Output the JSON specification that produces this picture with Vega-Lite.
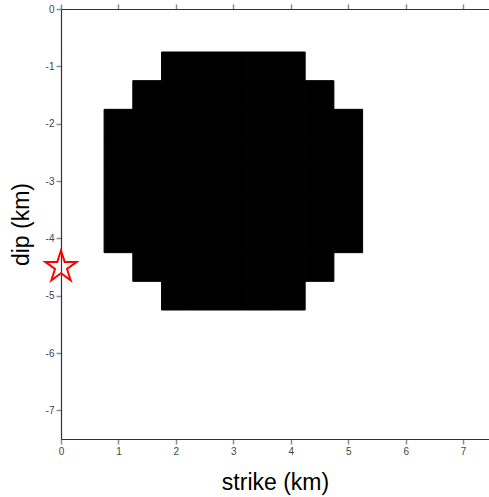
{
  "$schema": "https://vega.github.io/schema/vega-lite/v6.json",
  "width": 428,
  "height": 430,
  "autosize": "none",
  "padding": {"left": 61, "top": 9, "right": 0, "bottom": 58},
  "background": "white",
  "config": {
    "view": {"stroke": null},
    "font": "Liberation Sans",
    "axis": {
      "grid": false,
      "domainColor": "#333333",
      "domainWidth": 1.2,
      "tickColor": "#8c8c8c",
      "tickWidth": 1.5,
      "tickSize": 5,
      "labelFont": "Liberation Sans",
      "labelFontSize": 10,
      "labelColor": "#444444",
      "labelPadding": 2,
      "titleFont": "Liberation Sans",
      "titleFontSize": 23,
      "titleFontWeight": "normal",
      "titleColor": "black"
    }
  },
  "datasets": {
    "cells": [
      {"x0": 1.75, "x1": 2.25, "y0": -0.75, "y1": -1.25},
      {"x0": 2.25, "x1": 2.75, "y0": -0.75, "y1": -1.25},
      {"x0": 2.75, "x1": 3.25, "y0": -0.75, "y1": -1.25},
      {"x0": 3.25, "x1": 3.75, "y0": -0.75, "y1": -1.25},
      {"x0": 3.75, "x1": 4.25, "y0": -0.75, "y1": -1.25},
      {"x0": 1.25, "x1": 1.75, "y0": -1.25, "y1": -1.75},
      {"x0": 1.75, "x1": 2.25, "y0": -1.25, "y1": -1.75},
      {"x0": 2.25, "x1": 2.75, "y0": -1.25, "y1": -1.75},
      {"x0": 2.75, "x1": 3.25, "y0": -1.25, "y1": -1.75},
      {"x0": 3.25, "x1": 3.75, "y0": -1.25, "y1": -1.75},
      {"x0": 3.75, "x1": 4.25, "y0": -1.25, "y1": -1.75},
      {"x0": 4.25, "x1": 4.75, "y0": -1.25, "y1": -1.75},
      {"x0": 0.75, "x1": 1.25, "y0": -1.75, "y1": -2.25},
      {"x0": 1.25, "x1": 1.75, "y0": -1.75, "y1": -2.25},
      {"x0": 1.75, "x1": 2.25, "y0": -1.75, "y1": -2.25},
      {"x0": 2.25, "x1": 2.75, "y0": -1.75, "y1": -2.25},
      {"x0": 2.75, "x1": 3.25, "y0": -1.75, "y1": -2.25},
      {"x0": 3.25, "x1": 3.75, "y0": -1.75, "y1": -2.25},
      {"x0": 3.75, "x1": 4.25, "y0": -1.75, "y1": -2.25},
      {"x0": 4.25, "x1": 4.75, "y0": -1.75, "y1": -2.25},
      {"x0": 4.75, "x1": 5.25, "y0": -1.75, "y1": -2.25},
      {"x0": 0.75, "x1": 1.25, "y0": -2.25, "y1": -2.75},
      {"x0": 1.25, "x1": 1.75, "y0": -2.25, "y1": -2.75},
      {"x0": 1.75, "x1": 2.25, "y0": -2.25, "y1": -2.75},
      {"x0": 2.25, "x1": 2.75, "y0": -2.25, "y1": -2.75},
      {"x0": 2.75, "x1": 3.25, "y0": -2.25, "y1": -2.75},
      {"x0": 3.25, "x1": 3.75, "y0": -2.25, "y1": -2.75},
      {"x0": 3.75, "x1": 4.25, "y0": -2.25, "y1": -2.75},
      {"x0": 4.25, "x1": 4.75, "y0": -2.25, "y1": -2.75},
      {"x0": 4.75, "x1": 5.25, "y0": -2.25, "y1": -2.75},
      {"x0": 0.75, "x1": 1.25, "y0": -2.75, "y1": -3.25},
      {"x0": 1.25, "x1": 1.75, "y0": -2.75, "y1": -3.25},
      {"x0": 1.75, "x1": 2.25, "y0": -2.75, "y1": -3.25},
      {"x0": 2.25, "x1": 2.75, "y0": -2.75, "y1": -3.25},
      {"x0": 2.75, "x1": 3.25, "y0": -2.75, "y1": -3.25},
      {"x0": 3.25, "x1": 3.75, "y0": -2.75, "y1": -3.25},
      {"x0": 3.75, "x1": 4.25, "y0": -2.75, "y1": -3.25},
      {"x0": 4.25, "x1": 4.75, "y0": -2.75, "y1": -3.25},
      {"x0": 4.75, "x1": 5.25, "y0": -2.75, "y1": -3.25},
      {"x0": 0.75, "x1": 1.25, "y0": -3.25, "y1": -3.75},
      {"x0": 1.25, "x1": 1.75, "y0": -3.25, "y1": -3.75},
      {"x0": 1.75, "x1": 2.25, "y0": -3.25, "y1": -3.75},
      {"x0": 2.25, "x1": 2.75, "y0": -3.25, "y1": -3.75},
      {"x0": 2.75, "x1": 3.25, "y0": -3.25, "y1": -3.75},
      {"x0": 3.25, "x1": 3.75, "y0": -3.25, "y1": -3.75},
      {"x0": 3.75, "x1": 4.25, "y0": -3.25, "y1": -3.75},
      {"x0": 4.25, "x1": 4.75, "y0": -3.25, "y1": -3.75},
      {"x0": 4.75, "x1": 5.25, "y0": -3.25, "y1": -3.75},
      {"x0": 0.75, "x1": 1.25, "y0": -3.75, "y1": -4.25},
      {"x0": 1.25, "x1": 1.75, "y0": -3.75, "y1": -4.25},
      {"x0": 1.75, "x1": 2.25, "y0": -3.75, "y1": -4.25},
      {"x0": 2.25, "x1": 2.75, "y0": -3.75, "y1": -4.25},
      {"x0": 2.75, "x1": 3.25, "y0": -3.75, "y1": -4.25},
      {"x0": 3.25, "x1": 3.75, "y0": -3.75, "y1": -4.25},
      {"x0": 3.75, "x1": 4.25, "y0": -3.75, "y1": -4.25},
      {"x0": 4.25, "x1": 4.75, "y0": -3.75, "y1": -4.25},
      {"x0": 4.75, "x1": 5.25, "y0": -3.75, "y1": -4.25},
      {"x0": 1.25, "x1": 1.75, "y0": -4.25, "y1": -4.75},
      {"x0": 1.75, "x1": 2.25, "y0": -4.25, "y1": -4.75},
      {"x0": 2.25, "x1": 2.75, "y0": -4.25, "y1": -4.75},
      {"x0": 2.75, "x1": 3.25, "y0": -4.25, "y1": -4.75},
      {"x0": 3.25, "x1": 3.75, "y0": -4.25, "y1": -4.75},
      {"x0": 3.75, "x1": 4.25, "y0": -4.25, "y1": -4.75},
      {"x0": 4.25, "x1": 4.75, "y0": -4.25, "y1": -4.75},
      {"x0": 1.75, "x1": 2.25, "y0": -4.75, "y1": -5.25},
      {"x0": 2.25, "x1": 2.75, "y0": -4.75, "y1": -5.25},
      {"x0": 2.75, "x1": 3.25, "y0": -4.75, "y1": -5.25},
      {"x0": 3.25, "x1": 3.75, "y0": -4.75, "y1": -5.25},
      {"x0": 3.75, "x1": 4.25, "y0": -4.75, "y1": -5.25}
    ],
    "epicenter": [{"strike": 0, "dip": -4.5}]
  },
  "layer": [
    {
      "data": {"name": "cells"},
      "mark": {"type": "rect", "color": "black", "stroke": "black", "strokeWidth": 1},
      "encoding": {
        "x": {
          "field": "x0", "type": "quantitative",
          "scale": {"domain": [0, 7.45], "nice": false, "zero": false},
          "axis": {"orient": "bottom", "values": [0, 1, 2, 3, 4, 5, 6, 7], "labelExpr": "datum.value + ''", "labelFlush": false, "title": "strike (km)", "titlePadding": 15}
        },
        "x2": {"field": "x1"},
        "y": {
          "field": "y0", "type": "quantitative",
          "scale": {"domain": [-7.5, 0], "nice": false, "zero": false},
          "axis": {"values": [-7, -6, -5, -4, -3, -2, -1, 0], "labelExpr": "datum.value + ''", "labelFlush": false, "title": "dip (km)", "titlePadding": 12}
        },
        "y2": {"field": "y1"}
      }
    },
    {
      "data": {"name": "epicenter"},
      "mark": {"type": "point", "shape": "M0,-1L0.2245,-0.309L0.951,-0.309L0.3633,0.118L0.588,0.809L0,0.382L-0.588,0.809L-0.3633,0.118L-0.951,-0.309L-0.2245,-0.309Z", "size": 1089, "filled": false, "stroke": "#ff0000", "strokeWidth": 2, "opacity": 1},
      "encoding": {
        "x": {
          "field": "strike", "type": "quantitative",
          "axis": {"orient": "top", "values": [0, 1, 2, 3, 4, 5, 6, 7], "labels": false, "title": null}
        },
        "y": {"field": "dip", "type": "quantitative"}
      }
    }
  ],
  "resolve": {"axis": {"x": "independent"}}
}
